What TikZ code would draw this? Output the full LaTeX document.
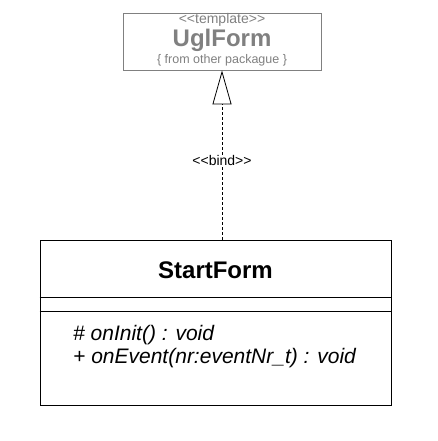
\documentclass[tikz,border=0pt]{standalone}
\usepackage{fontspec}
\setmainfont{Liberation Sans}
\usepackage{xcolor}
\usetikzlibrary{arrows.meta,positioning}

\definecolor{tmplgray}{RGB}{128,128,128}

\begin{document}
\begin{tikzpicture}[x=1pt,y=-1pt,
  classbox/.style={draw,line width=0.8pt,minimum width=351pt,minimum height=165pt,inner sep=0pt},
  tmplbox/.style={draw=tmplgray,line width=0.8pt,minimum width=198pt,minimum height=57pt,inner sep=0pt},
  tmpltext/.style={text=tmplgray,inner sep=0pt},
  member/.style={anchor=west,inner sep=0pt,font=\fontsize{21}{24}\selectfont\itshape},
  realize/.style={dash pattern=on 3pt off 2pt,line width=0.8pt,
    -{Triangle[open,length=34pt,width=19pt,fill=white,line width=0.8pt]}}
]
\useasboundingbox (0,0) rectangle (438,441);

% template class
\node[tmplbox] (tmpl) at (222,41.5) {};
\node[tmpltext,font=\fontsize{14}{14}\selectfont] (tmplst) at (222,20) {{<}{<}template{>}{>}};
\node[tmpltext,font=\fontsize{24}{24}\selectfont\bfseries] (tmplname) at (222,40) {UglForm};
\node[tmpltext,font=\fontsize{12.5}{12}\selectfont] (tmplpkg) at (222,60) {\{ from other packague \}};

% bound class
\node[classbox] (cls) at (215.5,322.5) {};
\node[font=\fontsize{24}{24}\selectfont\bfseries,inner sep=0pt] (clsname) at (215.5,270) {StartForm};
\draw[line width=0.8pt] (cls.north west) ++(0,58) -- ++(351,0);
\draw[line width=0.8pt] (cls.north west) ++(0,72) -- ++(351,0);
\node[member] (op1) at (73,335) {\# onInit() : void};
\node[member] (op2) at (73,358) {+ onEvent(nr:eventNr\_t) : void};

\draw[realize] (cls.north -| tmpl.south) -- node[pos=0.47,fill=white,inner sep=0pt,font=\fontsize{14}{14}\selectfont] (bind) {{<}{<}bind{>}{>}} (tmpl.south);
\end{tikzpicture}
\end{document}
